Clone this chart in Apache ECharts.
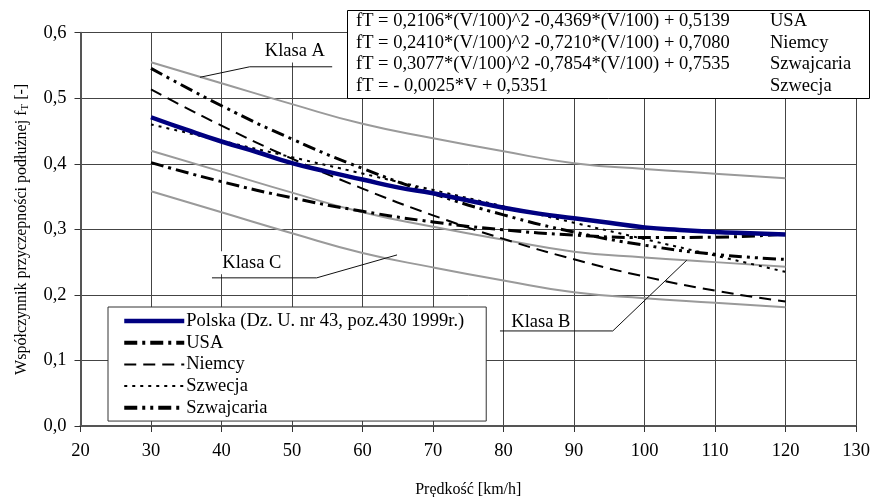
<!DOCTYPE html>
<html><head><meta charset="utf-8">
<script src="https://cdn.jsdelivr.net/npm/echarts@6/dist/echarts.min.js"></script>
<style>html,body{margin:0;padding:0;background:#fff}#c{width:872px;height:497px}</style>
</head><body><div id="c"></div>
<script>
// ---- data ----
const speeds = [30, 40, 50, 60, 70, 80, 90, 100, 110, 120];
const polskaSpeeds = [30, 35, 40, 45, 50, 55, 60, 65, 70, 75, 80, 85, 90, 95, 100, 105, 110, 115, 120];
const polska = [0.471, 0.452, 0.434, 0.418, 0.401, 0.388, 0.376, 0.364, 0.355, 0.344, 0.333, 0.324, 0.317, 0.310, 0.303, 0.299, 0.296, 0.294, 0.292];
const usa = [0.4018, 0.3728, 0.3481, 0.3276, 0.3113, 0.2992, 0.2913, 0.2876, 0.2881, 0.2929];
const niemcy = [0.5134, 0.4582, 0.4078, 0.3622, 0.3214, 0.2854, 0.2543, 0.2280, 0.2065, 0.1898];
const szwecja = [0.4601, 0.4351, 0.4101, 0.3851, 0.3601, 0.3351, 0.3101, 0.2851, 0.2601, 0.2351];
const szwajcaria = [0.5456, 0.4886, 0.4377, 0.3930, 0.3545, 0.3221, 0.2959, 0.2758, 0.2619, 0.2541];
const klasaUpper = [0.555, 0.523, 0.491, 0.461, 0.439, 0.419, 0.401, 0.392, 0.385, 0.378];
const klasaMiddle = [0.420, 0.388, 0.356, 0.326, 0.304, 0.284, 0.266, 0.257, 0.250, 0.243];
const klasaLower = [0.358, 0.326, 0.294, 0.264, 0.242, 0.222, 0.204, 0.195, 0.188, 0.181];
const seriesNames = ['Polska (Dz. U. nr 43, poz.430 1999r.)', 'USA', 'Niemcy', 'Szwecja', 'Szwajcaria'];
const xTickLabels = ['20', '30', '40', '50', '60', '70', '80', '90', '100', '110', '120', '130'];
const yTickLabels = ['0,0', '0,1', '0,2', '0,3', '0,4', '0,5', '0,6'];
const formulaLines = [
  ['fT = 0,2106*(V/100)^2 -0,4369*(V/100) + 0,5139', 'USA'],
  ['fT = 0,2410*(V/100)^2 -0,7210*(V/100) + 0,7080', 'Niemcy'],
  ['fT = 0,3077*(V/100)^2 -0,7854*(V/100) + 0,7535', 'Szwajcaria'],
  ['fT = - 0,0025*V + 0,5351', 'Szwecja']
];
const classNames = ['Klasa A', 'Klasa B', 'Klasa C'];

// ---- layout / style ----
const FONT = 'Liberation Serif';
const FS = 18.5;
const pairs = (xs, ys) => xs.map((x, i) => [x, ys[i]]);
// annotation anchors in data coordinates: text centre, horizontal leader (x1,x2,y), pointer end
const classAnno = [
  { text: [50.4, 0.572], hl: [44.0, 55.7, 0.548], end: [36.95, 0.532], left: true },
  { text: [85.3, 0.159], hl: [79.5, 95.5, 0.145], end: [106, 0.253], left: false },
  { text: [44.3, 0.249], hl: [38.65, 53.5, 0.226], end: [64.9, 0.261], left: false }
];

const chart = echarts.init(document.getElementById('c'), null, { renderer: 'canvas' });

function line(name, xs, ys, color, width, dash, z) {
  return {
    name, type: 'line', data: pairs(xs, ys), smooth: true, symbol: 'none', z: z || 3,
    lineStyle: { color, width, type: dash || 'solid' }, itemStyle: { color },
    emphasis: { disabled: true }, silent: true
  };
}

const legendLine = (name, width) => ({ name, lineStyle: { width } });

const option = {
  animation: false,
  backgroundColor: '#fff',
  textStyle: { fontFamily: FONT },
  grid: { left: 80.5, right: 16, top: 32.7, bottom: 71, containLabel: false, outerBoundsMode: 'none' },
  xAxis: {
    type: 'value', min: 20, max: 130, interval: 10,
    name: 'Prędkość [km/h]', nameLocation: 'middle', nameGap: 56,
    nameTextStyle: { fontFamily: FONT, fontSize: 16, color: '#000' },
    axisLine: { show: true, lineStyle: { color: '#555', width: 2 } },
    axisTick: { show: true, length: 6, inside: false, lineStyle: { color: '#333' } },
    axisLabel: { margin: 16, fontFamily: FONT, fontSize: FS, color: '#000',
      formatter: (v) => xTickLabels[Math.round((v - 20) / 10)] },
    splitLine: { show: true, lineStyle: { color: '#444', width: 1 } }
  },
  yAxis: {
    type: 'value', min: 0, max: 0.6, interval: 0.1,
    name: 'Współczynnik przyczepności podłużnej f{sub|T} [-]', nameLocation: 'middle', nameGap: 50, nameRotate: 90,
    nameTextStyle: { fontFamily: FONT, fontSize: 16, color: '#000',
      rich: { sub: { fontFamily: FONT, fontSize: 11, color: '#000', verticalAlign: 'bottom', padding: [6, 0, 0, 0] } } },
    axisLine: { show: true, lineStyle: { color: '#555', width: 2 } },
    axisTick: { show: true, length: 6, lineStyle: { color: '#333' } },
    axisLabel: { margin: 14, fontFamily: FONT, fontSize: FS, color: '#000',
      formatter: (v) => yTickLabels[Math.round(v * 10)] },
    splitLine: { show: true, lineStyle: { color: '#444', width: 1 } }
  },
  legend: {
    orient: 'vertical', left: 108, top: 307,
    data: [legendLine(seriesNames[0], 4.5), legendLine(seriesNames[1], 4), legendLine(seriesNames[2], 2),
           legendLine(seriesNames[3], 2), legendLine(seriesNames[4], 4)],
    itemWidth: 60, itemHeight: 14, itemGap: 2.2,
    padding: [4.25, 22, 3.5, 14],
    itemStyle: { opacity: 0, borderWidth: 0 },
    backgroundColor: '#fff', borderColor: '#333', borderWidth: 1,
    textStyle: { fontFamily: FONT, fontSize: FS, lineHeight: 19.5, color: '#000', padding: [0, 0, 0, -3] },
    selectedMode: false
  },
  series: [
    line('klasaUpper', speeds, klasaUpper, '#9a9a9a', 2, 'solid', 2),
    line('klasaMiddle', speeds, klasaMiddle, '#9a9a9a', 2, 'solid', 2),
    line('klasaLower', speeds, klasaLower, '#9a9a9a', 2, 'solid', 2),
    line(seriesNames[1], speeds, usa, '#000', 3, [13, 5, 3, 5]),
    line(seriesNames[2], speeds, niemcy, '#000', 2, [12, 7]),
    line(seriesNames[3], speeds, szwecja, '#000', 2, [3, 5]),
    line(seriesNames[4], speeds, szwajcaria, '#000', 3, [13, 5, 3, 5, 3, 5]),
    line(seriesNames[0], polskaSpeeds, polska, '#000080', 4.5, 'solid', 5)
  ]
};
chart.setOption(option);

// annotations and formula box
const g = [];
const px = (p) => chart.convertToPixel({ gridIndex: 0 }, p);
classAnno.forEach((a, i) => {
  const t = px(a.text), h1 = px([a.hl[0], a.hl[2]]), h2 = px([a.hl[1], a.hl[2]]), e = px(a.end);
  g.push({ type: 'text', x: t[0], y: t[1], z: 20,
    style: { text: classNames[i], fontFamily: FONT, fontSize: FS, fill: '#000', align: 'center', verticalAlign: 'middle',
      backgroundColor: '#fff', padding: [2, 3] } });
  g.push({ type: 'polyline', z: 21, shape: { points: a.left ? [h2, h1, e] : [h1, h2, e] },
    style: { stroke: '#111', lineWidth: 1, fill: null } });
});
g.push({ type: 'rect', z: 30, shape: { x: 347.5, y: 10.5, width: 522, height: 88 },
  style: { fill: '#fff', stroke: '#000', lineWidth: 1 } });
formulaLines.forEach((fl, i) => {
  g.push({ type: 'text', z: 31, x: 356, y: 21.5 + i * 21.5,
    style: { text: fl[0], fontFamily: FONT, fontSize: FS, fill: '#000', verticalAlign: 'middle' } });
  g.push({ type: 'text', z: 31, x: 770, y: 21.5 + i * 21.5,
    style: { text: fl[1], fontFamily: FONT, fontSize: FS, fill: '#000', verticalAlign: 'middle' } });
});
chart.setOption({ graphic: g });
</script>
</body></html>
